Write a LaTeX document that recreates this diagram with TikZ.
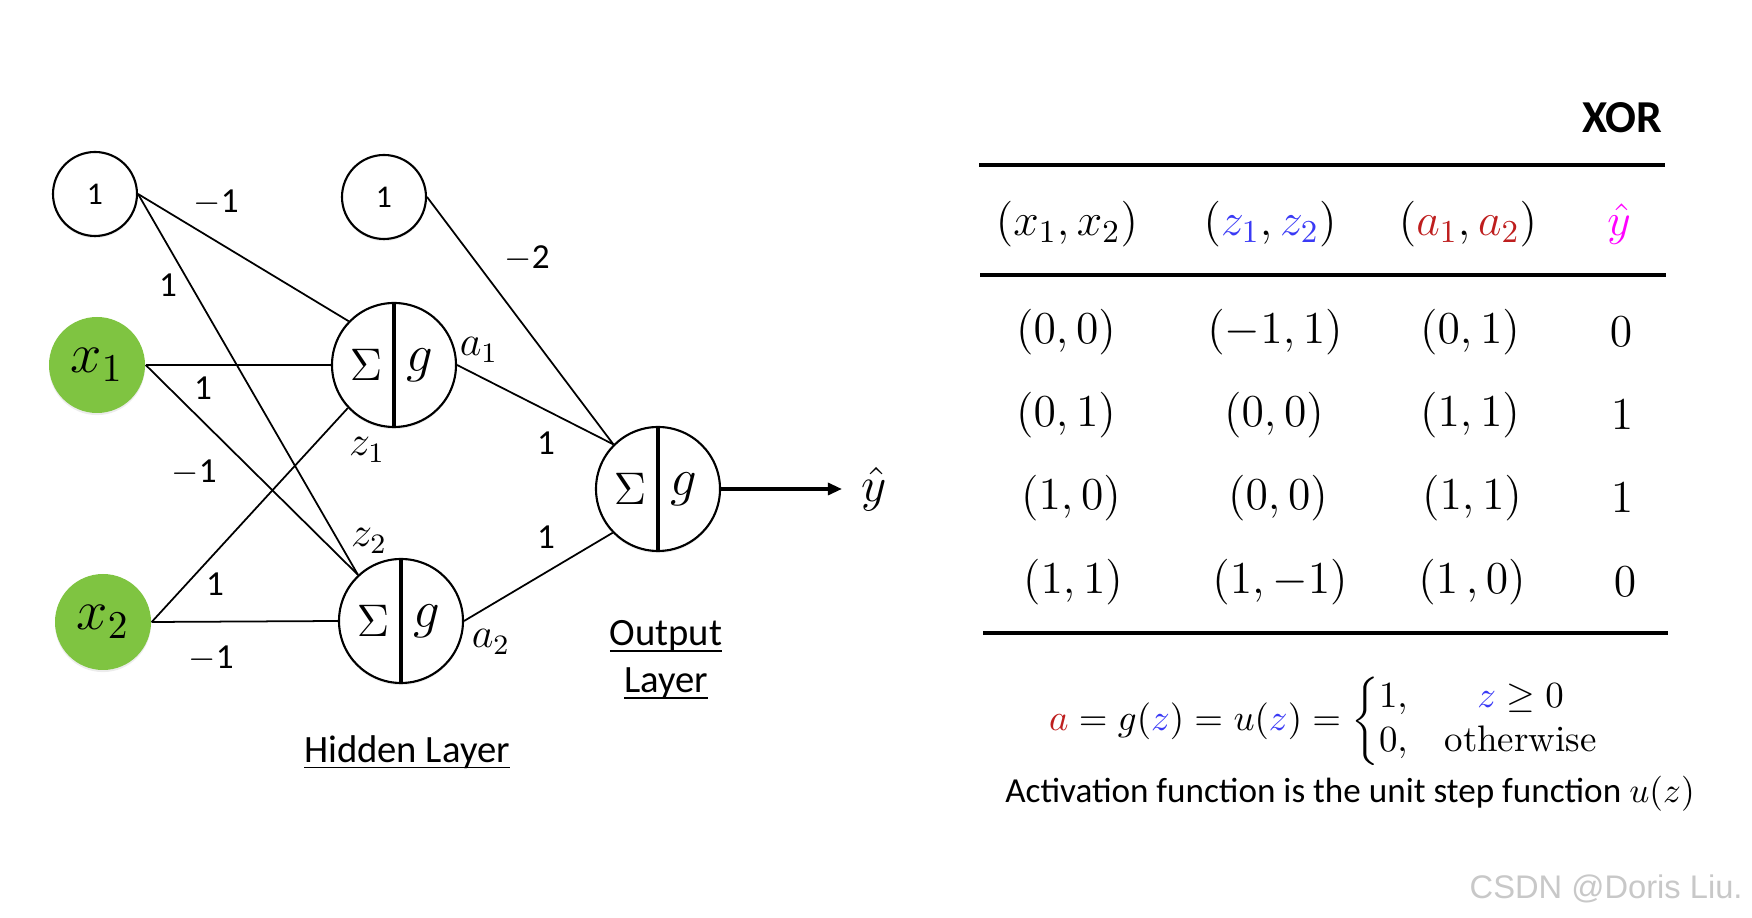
\RequirePackage{fix-cm}
\documentclass[tikz,border=0pt]{standalone}
\usepackage{amsmath,amssymb}
\usepackage{fontspec}
\setsansfont{Carlito}
\newfontfamily\markfont{Liberation Sans}
\usepackage{tikz}
\usetikzlibrary{arrows.meta,positioning,calc,shadows}
\definecolor{inputgreen}{RGB}{127,196,65}
\definecolor{zblue}{RGB}{58,58,245}
\definecolor{ared}{RGB}{190,30,30}
\definecolor{yhatpink}{RGB}{255,0,255}
\definecolor{markgray}{RGB}{200,200,200}

\begin{document}
\begin{tikzpicture}[
 bias/.style={circle,draw,semithick,fill=white,minimum size=8.4mm,inner sep=0pt,font=\sffamily\fontsize{9}{11}\selectfont,
   drop shadow={shadow xshift=0pt,shadow yshift=-0.6pt,opacity=0.15}},
 input/.style={circle,fill=inputgreen,minimum size=9.6mm,inner sep=0pt,font=\fontsize{16}{18}\selectfont,
   drop shadow={shadow xshift=0pt,shadow yshift=-0.6pt,opacity=0.15}},
 neuron/.style={circle,draw,semithick,fill=white,minimum size=12.4mm,inner sep=0pt,
   drop shadow={shadow xshift=0pt,shadow yshift=-0.6pt,opacity=0.15},
   path picture={
     \draw[line width=0.9pt] (path picture bounding box.north) -- (path picture bounding box.south);
     \node[font=\fontsize{13}{15}\selectfont] at ([xshift=-2.8mm]path picture bounding box.center) {$\Sigma$};
     \node[font=\fontsize{15}{17}\selectfont] at ([xshift=2.6mm]path picture bounding box.center) {$g$};}},
 wire/.style={line width=0.5pt},
 weight/.style={font=\sffamily\fontsize{10}{12}\selectfont},
 sumlabel/.style={font=\fontsize{12}{14}\selectfont},
 layername/.style={font=\sffamily\fontsize{11}{13.4}\selectfont,align=center},
 cell/.style={font=\fontsize{13}{15}\selectfont},
 rule/.style={line width=1.3pt}
]
\useasboundingbox (0,0) rectangle (17.52,9.18);

% input layer
\node[bias] (b1) at (0.95,7.24) {1};
\node[input] (x1) at (0.97,5.53) {$x_1$};
\node[input] (x2) at (1.03,2.96) {$x_2$};
% hidden layer
\node[bias] (b2) at (3.84,7.21) {1};
\node[neuron] (h1) at (3.94,5.53) {};
\node[neuron] (h2) at (4.01,2.97) {};
% output layer
\node[neuron] (out) at (6.58,4.29) {};
\node[font=\fontsize{14}{16}\selectfont] (yhat) at (8.74,4.29) {$\hat{y}$};

\draw[wire] (b1.east) -- (h1.136);
\draw[wire] (b1.east) -- (h2.133);
\draw[wire] (x1.east) -- (h1.west);
\draw[wire] (x1.east) -- (h2.133);
\draw[wire] (x2.east) -- (h1.223);
\draw[wire] (x2.east) -- (h2.west);
\draw[wire] (b2.east) -- (out.135);
\draw[wire] (h1.east) -- (out.135);
\draw[wire] (h2.east) -- (out.224);
\draw[-{Triangle[length=1.4mm,width=1.2mm]},line width=0.9pt,shorten >=2pt] (out.east) -- (yhat);

% weights
\node[weight] (w11) at (2.16,7.15) {$-$1};
\node[weight] (w12) at (1.68,6.33) {1};
\node[weight] (w21) at (2.03,5.30) {1};
\node[weight] (w22) at (1.94,4.45) {$-$1};
\node[weight] (w31) at (2.15,3.34) {1};
\node[weight] (w32) at (2.11,2.59) {$-$1};
\node[weight] (v0) at (5.27,6.59) {$-$2};
\node[weight] (v1) at (5.46,4.75) {1};
\node[weight] (v2) at (5.46,3.81) {1};
\node[sumlabel] (z1) at (3.67,4.68) {$z_1$};
\node[sumlabel] (z2) at (3.69,3.77) {$z_2$};
\node[sumlabel] (a1) at (4.79,5.68) {$a_1$};
\node[sumlabel] (a2) at (4.91,2.76) {$a_2$};
\node[layername] (hidname) at (4.07,1.52) {\underline{\smash{Hidden Layer}}};
\node[layername] (outname) at (6.66,2.45) {\underline{\smash{Output}}\\\underline{\smash{Layer}}};

% truth table
\node[font=\sffamily\bfseries\fontsize{13}{15}\selectfont,anchor=east] (xor) at (16.75,8.00) {XOR};
\draw[rule] (9.79,7.53) -- (16.65,7.53);
\draw[rule] (9.80,6.43) -- (16.66,6.43);
\draw[rule] (9.83,2.85) -- (16.68,2.85);
\node[cell] (hx) at (10.67,6.94) {$(x_1,x_2)$};
\node[cell] (hz) at (12.70,6.94) {$({\color{zblue}z_1},{\color{zblue}z_2})$};
\node[cell] (ha) at (14.68,6.94) {$({\color{ared}a_1},{\color{ared}a_2})$};
\node[cell] (hy) at (16.19,6.94) {$\color{yhatpink}\hat{y}$};
\node[cell] (r1x) at (10.66,5.86) {$(0,0)$};
\node[cell] (r1z) at (12.75,5.86) {$(-1,1)$};
\node[cell] (r1a) at (14.70,5.86) {$(0,1)$};
\node[cell] (r1y) at (16.21,5.86) {$0$};
\node[cell] (r2x) at (10.66,5.03) {$(0,1)$};
\node[cell] (r2z) at (12.74,5.03) {$(0,0)$};
\node[cell] (r2a) at (14.70,5.03) {$(1,1)$};
\node[cell] (r2y) at (16.22,5.03) {$1$};
\node[cell] (r3x) at (10.71,4.20) {$(1,0)$};
\node[cell] (r3z) at (12.78,4.20) {$(0,0)$};
\node[cell] (r3a) at (14.72,4.20) {$(1,1)$};
\node[cell] (r3y) at (16.22,4.20) {$1$};
\node[cell] (r4x) at (10.73,3.36) {$(1,1)$};
\node[cell] (r4z) at (12.80,3.36) {$(1,-1)$};
\node[cell] (r4a) at (14.72,3.36) {$(1\,,0)$};
\node[cell] (r4y) at (16.25,3.36) {$0$};

% step function
\node[font=\fontsize{10.5}{12.5}\selectfont] (stepeq) at (13.25,1.97)
  {${\color{ared}a}=g({\color{zblue}z})=u({\color{zblue}z})=\left\{\begin{array}{@{}l@{\quad}c@{}}1, & {\color{zblue}z}\geq 0\\ 0, & \text{otherwise}\end{array}\right.$};
\node[font=\sffamily\fontsize{10}{12}\selectfont] (stepnote) at (13.50,1.24)
  {Activation function is the unit step function $u(z)$};
\node[font=\markfont\fontsize{9.3}{11}\selectfont,text=markgray,anchor=east] (mark) at (17.55,0.29) {CSDN @Doris Liu.};
\end{tikzpicture}
\end{document}
